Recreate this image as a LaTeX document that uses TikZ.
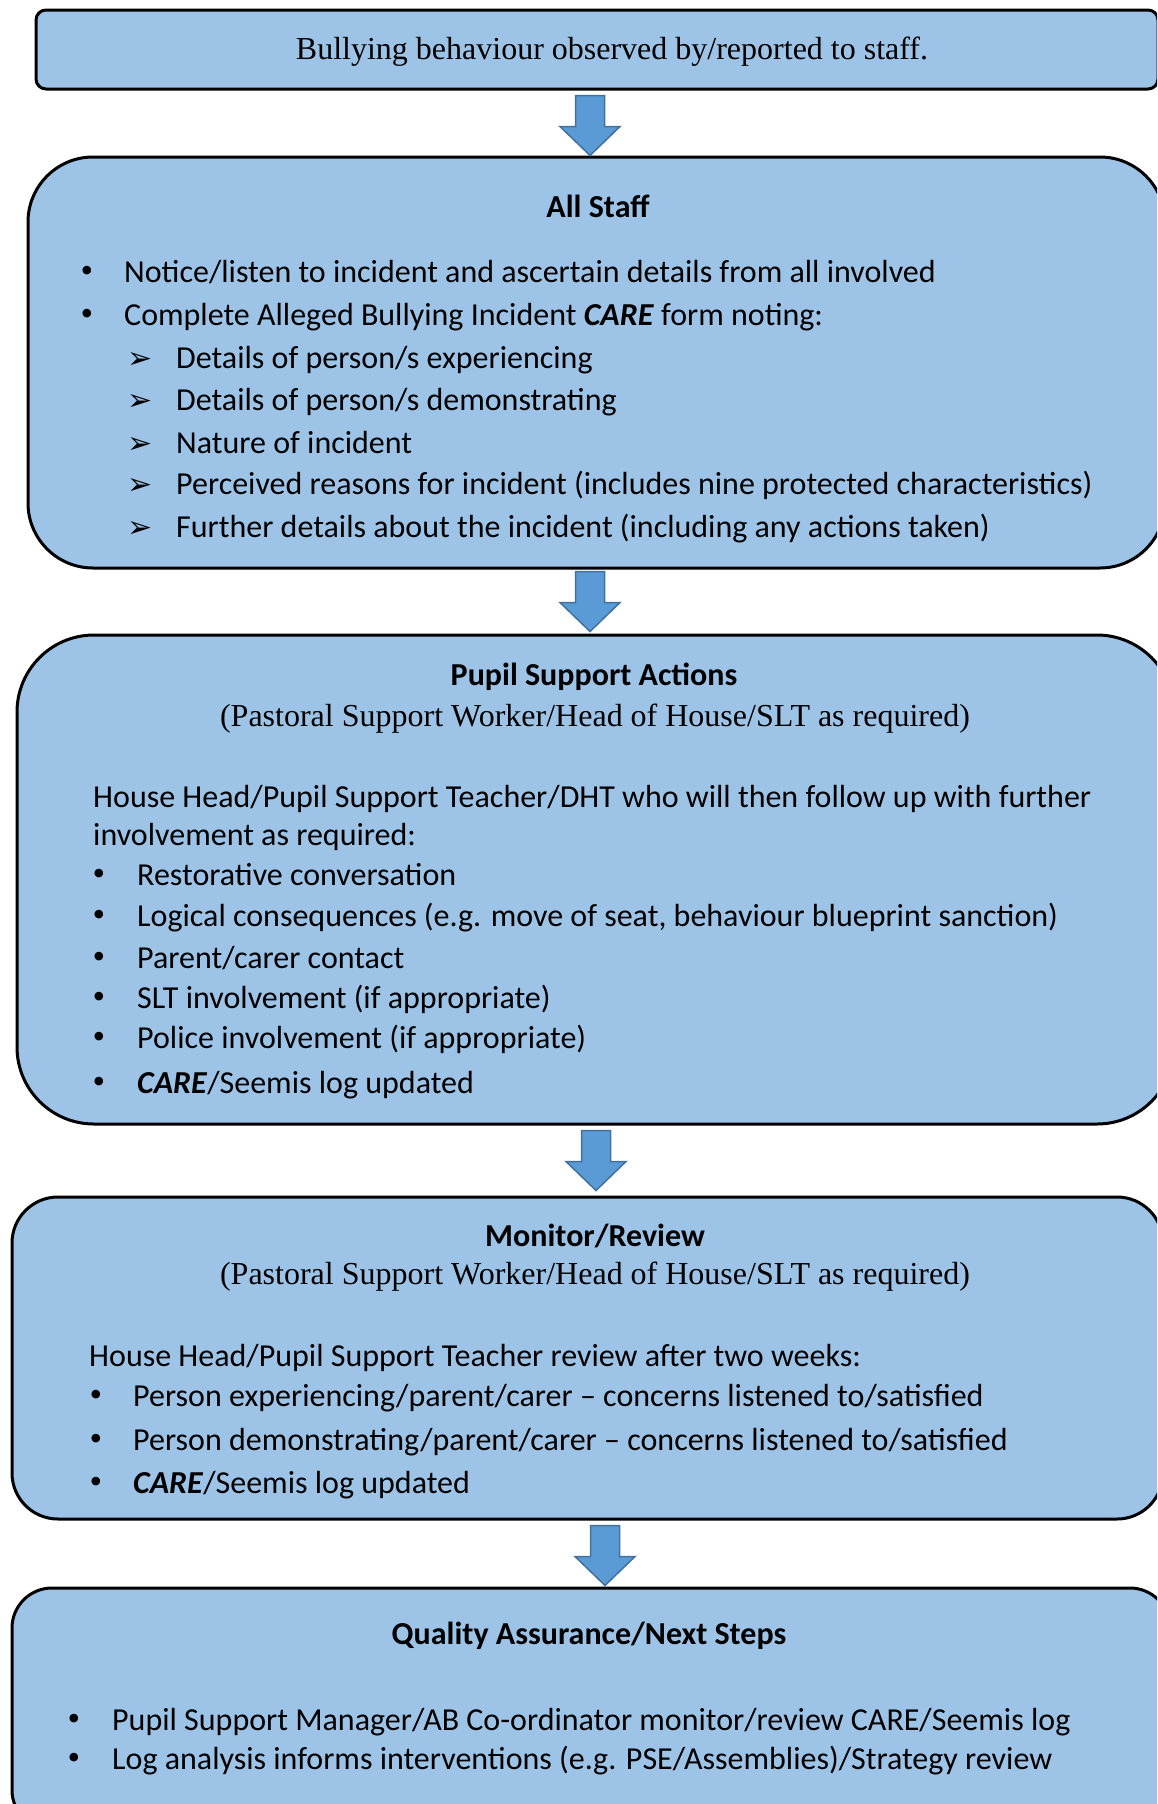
\documentclass[tikz,border=0pt]{standalone}
\usepackage{fontspec}
\setmainfont{Carlito}
\newfontfamily\timesfont{Liberation Serif}
\newfontfamily\symfont{DejaVu Sans}
\usetikzlibrary{positioning,calc}

\definecolor{boxblue}{RGB}{157,195,230}
\definecolor{arrowblue}{RGB}{91,155,213}
\definecolor{arrowedge}{RGB}{65,113,156}

\begin{document}
\begin{tikzpicture}[x=1pt,y=1pt,yscale=-1,
  stagebox/.style={draw=black, line width=3pt, fill=boxblue, rounded corners=#1},
  bodytext/.style={anchor=base west, inner sep=0pt, font=\fontsize{32}{38}\selectfont},
  headtext/.style={inner sep=0pt, font=\fontsize{32}{38}\selectfont\bfseries},
  seriftext/.style={inner sep=0pt, font=\fontsize{32}{38}\selectfont\timesfont},
  bulletmark/.style={anchor=base, inner sep=0pt, font=\fontsize{36}{38}\selectfont\timesfont},
  arrowmark/.style={anchor=base west, inner sep=0pt, font=\fontsize{30}{38}\selectfont\symfont},
  % pics are not flipped by yscale, so the arrow is written with y going up
  downarrow/.pic={
    \draw [line width=1.5pt, draw=arrowedge, fill=arrowblue, line join=miter]
      (-14.5,0) -- (14.5,0) -- (14.5,-31) -- (30,-31) -- (0,-60) -- (-30,-31) -- (-14.5,-31) -- cycle ;
  }]

\useasboundingbox (0,0) rectangle (1157,1804);
\clip (0,0) rectangle (1157,1804);

% Boxes
\node [stagebox=10, minimum width=1122, minimum height=79] (report) at (597,49.5) {};
\node [stagebox=65, minimum width=1137, minimum height=411] (staff) at (596.5,362.5) {};
\node [stagebox=77, minimum width=1157, minimum height=489] (actions) at (595.5,879.5) {};
\node [stagebox=46, minimum width=1151, minimum height=322] (monitor) at (587.5,1358) {};
\node [stagebox=40, minimum width=1158, minimum height=242] (quality) at (591,1709) {};

% Block arrows
\pic at ([shift={(-7,5)}]report.south) {downarrow};
\pic at ([shift={(-6.5,2)}]staff.south) {downarrow};
\pic at ([shift={(0.5,5)}]actions.south) {downarrow};
\pic at ([shift={(17.5,5)}]monitor.south) {downarrow};

% Text Node
\node [seriftext] (reporttxt) at (612,52) {Bullying behaviour observed by/reported to staff.};

% Text Node
\node [headtext] (stafftitle) at (598,206) {All Staff};
\node [bulletmark] (sb1) at (87,282) {•};
\node [bodytext] (st1) at (124,282) {Notice/listen to incident and ascertain details from all involved};
\node [bulletmark] (sb2) at (87,325) {•};
\node [bodytext] (st2) at (124,325) {Complete Alleged Bullying Incident \textbf{\textit{CARE}} form noting:};
\node [arrowmark] (sa1) at (127,368) {➢};
\node [bodytext] (ss1) at (176,368) {Details of person/s experiencing};
\node [arrowmark] (sa2) at (127,410) {➢};
\node [bodytext] (ss2) at (176,410) {Details of person/s demonstrating};
\node [arrowmark] (sa3) at (127,453) {➢};
\node [bodytext] (ss3) at (176,453) {Nature of incident};
\node [arrowmark] (sa4) at (127,494) {➢};
\node [bodytext] (ss4) at (176,494) {Perceived reasons for incident (includes nine protected characteristics)};
\node [arrowmark] (sa5) at (127,537) {➢};
\node [bodytext] (ss5) at (176,537) {Further details about the incident (including any actions taken)};

% Text Node
\node [headtext] (actionstitle) at (594,677) {Pupil Support Actions};
\node [seriftext] (actionsrole) at (595,719) {(Pastoral Support Worker/Head of House/SLT as required)};
\node [bodytext] (ai1) at (93,807) {House Head/Pupil Support Teacher/DHT who will then follow up with further};
\node [bodytext] (ai2) at (93,845) {involvement as required:};
\node [bulletmark] (ab1) at (99,885) {•};
\node [bodytext] (at1) at (137,885) {Restorative conversation};
\node [bulletmark] (ab2) at (99,926) {•};
\node [bodytext] (at2) at (137,926) {Logical consequences (e.g. move of seat, behaviour blueprint sanction)};
\node [bulletmark] (ab3) at (99,968) {•};
\node [bodytext] (at3) at (137,968) {Parent/carer contact};
\node [bulletmark] (ab4) at (99,1008) {•};
\node [bodytext] (at4) at (137,1008) {SLT involvement (if appropriate)};
\node [bulletmark] (ab5) at (99,1048) {•};
\node [bodytext] (at5) at (137,1048) {Police involvement (if appropriate)};
\node [bulletmark] (ab6) at (99,1093) {•};
\node [bodytext] (at6) at (137,1093) {\textbf{\textit{CARE}}/Seemis log updated};

% Text Node
\node [headtext] (monitortitle) at (595,1236) {Monitor/Review};
\node [seriftext] (monitorrole) at (595,1277) {(Pastoral Support Worker/Head of House/SLT as required)};
\node [bodytext] (mi1) at (89,1366) {House Head/Pupil Support Teacher review after two weeks:};
\node [bulletmark] (mb1) at (96,1406) {•};
\node [bodytext] (mt1) at (133,1406) {Person experiencing/parent/carer -- concerns listened to/satisfied};
\node [bulletmark] (mb2) at (96,1450) {•};
\node [bodytext] (mt2) at (133,1450) {Person demonstrating/parent/carer -- concerns listened to/satisfied};
\node [bulletmark] (mb3) at (96,1493) {•};
\node [bodytext] (mt3) at (133,1493) {\textbf{\textit{CARE}}/Seemis log updated};

% Text Node
\node [headtext] (qualitytitle) at (589,1636) {Quality Assurance/Next Steps};
\node [bulletmark] (qb1) at (74,1730) {•};
\node [bodytext] (qt1) at (112,1730) {Pupil Support Manager/AB Co-ordinator monitor/review CARE/Seemis log};
\node [bulletmark] (qb2) at (74,1769) {•};
\node [bodytext] (qt2) at (112,1769) {Log analysis informs interventions (e.g. PSE/Assemblies)/Strategy review};

\end{tikzpicture}
\end{document}
